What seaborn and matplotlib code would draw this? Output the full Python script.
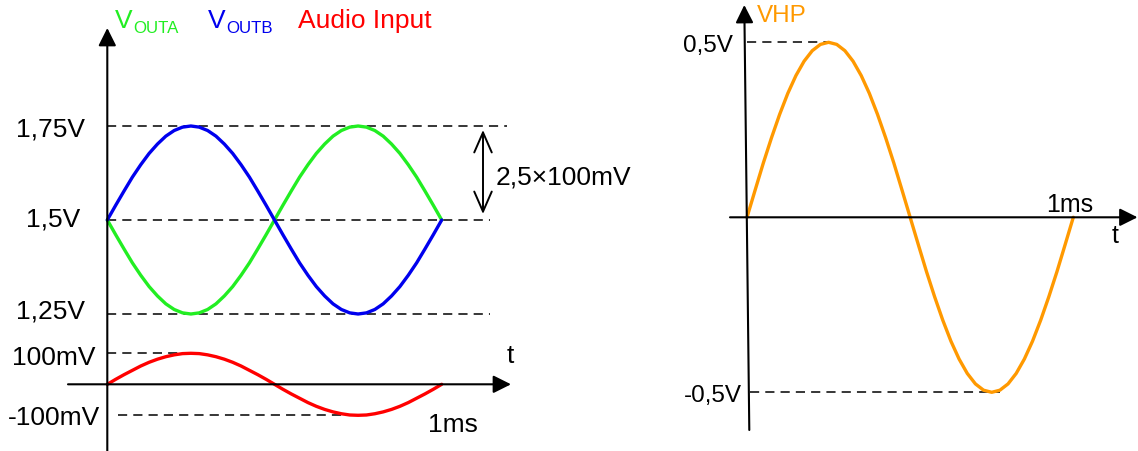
import numpy as np
import matplotlib
matplotlib.use("Agg")
import matplotlib.pyplot as plt
import seaborn as sns

# ---------------- data ----------------
t_ms = np.linspace(0.0, 1.0, 41)
v_outa = [1.5, 1.461, 1.423, 1.386, 1.353, 1.323, 1.298, 1.277, 1.262, 1.253, 1.25,
          1.253, 1.262, 1.277, 1.298, 1.323, 1.353, 1.386, 1.423, 1.461, 1.5,
          1.539, 1.577, 1.614, 1.647, 1.677, 1.702, 1.723, 1.738, 1.747, 1.75,
          1.747, 1.738, 1.723, 1.702, 1.677, 1.647, 1.614, 1.577, 1.539, 1.5]
v_outb = [1.5, 1.539, 1.577, 1.614, 1.647, 1.677, 1.702, 1.723, 1.738, 1.747, 1.75,
          1.747, 1.738, 1.723, 1.702, 1.677, 1.647, 1.614, 1.577, 1.539, 1.5,
          1.461, 1.423, 1.386, 1.353, 1.323, 1.298, 1.277, 1.262, 1.253, 1.25,
          1.253, 1.262, 1.277, 1.298, 1.323, 1.353, 1.386, 1.423, 1.461, 1.5]
audio_mv = [0, 16, 31, 45, 59, 71, 81, 89, 95, 99, 100, 99, 95, 89, 81, 71, 59, 45, 31, 16, 0,
            -16, -31, -45, -59, -71, -81, -89, -95, -99, -100, -99, -95, -89, -81, -71, -59,
            -45, -31, -16, 0]
v_hp = [0, 0.078, 0.155, 0.227, 0.294, 0.354, 0.405, 0.446, 0.476, 0.494, 0.5,
        0.494, 0.476, 0.446, 0.405, 0.354, 0.294, 0.227, 0.155, 0.078, 0,
        -0.078, -0.155, -0.227, -0.294, -0.354, -0.405, -0.446, -0.476, -0.494, -0.5,
        -0.494, -0.476, -0.446, -0.405, -0.354, -0.294, -0.227, -0.155, -0.078, 0]

left_levels = [1.75, 1.5, 1.25]
left_level_labels = ["1,75V", "1,5V", "1,25V"]
audio_levels = [100, -100]
audio_level_labels = ["100mV", "-100mV"]
hp_levels = [0.5, -0.5]
hp_level_labels = ["0,5V", "-0,5V"]

# ---------------- style ----------------
sns.set_theme(style="white")
plt.rcParams["font.family"] = ["Liberation Sans", "DejaVu Sans"]

GREEN = "#22ee22"
BLUE = "#0000ee"
RED = "#ff0000"
ORANGE = "#ff9900"
W, H = 1138, 451

fig = plt.figure(figsize=(W / 100, H / 100), dpi=100)
axL = fig.add_axes([0, 0, 560 / W, 1])
axR = fig.add_axes([560 / W, 0, 578 / W, 1])
for ax in (axL, axR):
    ax.set_axis_off()

# left axes mapping: t=0 at px 107, t=1 at px 441 ; 1.5V at px 220, 376 px/V
PXL_T0, PXL_TS = 107.3, 334.4
PXL_V0, PXL_VS = 220.0, 376.0
axL.set_xlim((0 - PXL_T0) / PXL_TS, (560 - PXL_T0) / PXL_TS)
axL.set_ylim(1.5 - (H - PXL_V0) / PXL_VS, 1.5 + PXL_V0 / PXL_VS)
AUDIO_ZERO = 1.5 - (384.3 - PXL_V0) / PXL_VS
AUDIO_SCALE = 31.0 / PXL_VS / 100.0

def lx(px):
    return (px - PXL_T0) / PXL_TS

def ly(py):
    return 1.5 + (PXL_V0 - py) / PXL_VS

# right axes mapping
PXR_T0, PXR_TS = 747.0, 326.3
PXR_V0, PXR_VS = 217.3, 350.0
axR.set_xlim((560 - PXR_T0) / PXR_TS, (W - PXR_T0) / PXR_TS)
axR.set_ylim(-(H - PXR_V0) / PXR_VS, PXR_V0 / PXR_VS)

def rx(px):
    return (px - PXR_T0) / PXR_TS

def ry(py):
    return (PXR_V0 - py) / PXR_VS

DASH = dict(color="black", lw=1.1, ls=(0, (6, 4)), clip_on=False)
ARROW = dict(arrowstyle="-|>,head_length=0.6,head_width=0.3", color="black", lw=1.5,
             shrinkA=0, shrinkB=0, mutation_scale=18)

# ---------------- left panel ----------------
# dashed reference lines
axL.plot([0, lx(507)], [left_levels[0]] * 2, **DASH)
axL.plot([0, lx(490)], [left_levels[1]] * 2, **DASH)
axL.plot([0, lx(490)], [left_levels[2]] * 2, **DASH)
axL.plot([0, 0.25], [AUDIO_ZERO + audio_levels[0] * AUDIO_SCALE] * 2, **DASH)
axL.plot([lx(118), 0.75], [AUDIO_ZERO + audio_levels[1] * AUDIO_SCALE] * 2, **DASH)

# axes arrows
axL.annotate("", xy=(0, ly(28)), xytext=(0, ly(451)), arrowprops=ARROW, annotation_clip=False)
axL.annotate("", xy=(lx(511), AUDIO_ZERO), xytext=(lx(68), AUDIO_ZERO), arrowprops=ARROW,
             annotation_clip=False)

# curves
audio_y = [AUDIO_ZERO + v * AUDIO_SCALE for v in audio_mv]
sns.lineplot(x=t_ms, y=audio_y, ax=axL, color=RED, lw=2.4, estimator=None, sort=False)
sns.lineplot(x=t_ms, y=v_outa, ax=axL, color=GREEN, lw=2.4, estimator=None, sort=False)
sns.lineplot(x=t_ms, y=v_outb, ax=axL, color=BLUE, lw=2.4, estimator=None, sort=False)

# double arrow 2,5x100mV
axL.annotate("", xy=(lx(483), ly(130)), xytext=(lx(483), ly(214)),
             arrowprops=dict(arrowstyle="<->,head_length=0.8,head_width=0.35", color="black",
                             lw=1.4, shrinkA=0, shrinkB=0, mutation_scale=18),
             annotation_clip=False)

def ftext(px, py, s, color="black", size=19, ha="left"):
    fig.text(px / W, 1 - py / H, s, color=color, fontsize=size, ha=ha, va="baseline")

ftext(85, 137, left_level_labels[0], ha="right")
ftext(80, 227, left_level_labels[1], ha="right")
ftext(85, 318, left_level_labels[2], ha="right")
ftext(95, 365, audio_level_labels[0], ha="right")
ftext(100, 425, audio_level_labels[1], ha="right")
ftext(507, 363, "t")
ftext(428, 432, "1ms")
ftext(496, 184, "2,5×100mV")

# titles
ftext(115, 28, "V", color=GREEN)
ftext(133, 33, "OUTA", color=GREEN, size=12.2)
ftext(208, 28, "V", color=BLUE)
ftext(226.5, 33, "OUTB", color=BLUE, size=12.2)
ftext(298, 28, "Audio Input", color=RED)

# ---------------- right panel ----------------
axR.plot([0, 0.255], [hp_levels[0]] * 2, **DASH)
axR.plot([rx(750), 0.775], [hp_levels[1]] * 2, **DASH)

axR.annotate("", xy=(rx(744.3), ry(5)), xytext=(rx(749.3), ry(430)), arrowprops=ARROW,
             annotation_clip=False)
axR.annotate("", xy=(rx(1137.5), 0), xytext=(rx(730), 0), arrowprops=ARROW,
             annotation_clip=False)

sns.lineplot(x=t_ms, y=v_hp, ax=axR, color=ORANGE, lw=2.4, estimator=None, sort=False)

ftext(757, 22, "VHP", color=ORANGE, size=17.5)
ftext(733, 52, hp_level_labels[0], size=17.5, ha="right")
ftext(742, 402, hp_level_labels[1], size=17.5, ha="right")
ftext(1046, 212, "1ms", size=18)
ftext(1112, 243, "t", size=18)

for ax in (axL, axR):
    if ax.get_legend() is not None:
        ax.get_legend().remove()

fig.savefig("out.png", dpi=100)
